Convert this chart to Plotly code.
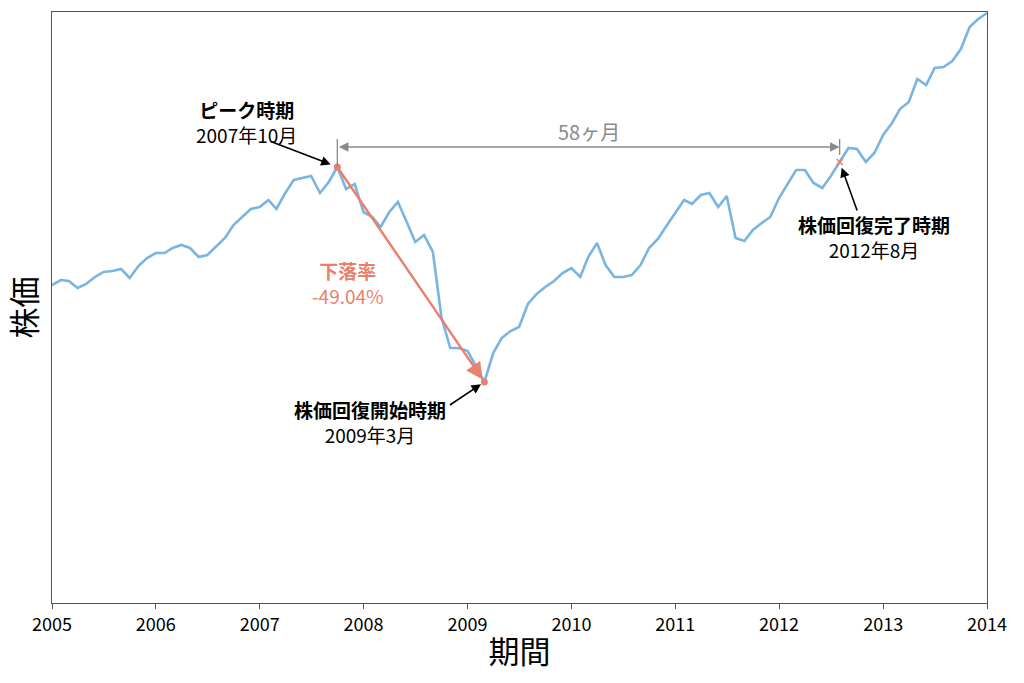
import pandas as pd
import plotly.graph_objects as go

# Monthly dates Jan 2005 .. Jan 2014
dates = pd.date_range("2005-01-01", "2014-01-01", freq="MS")

# Stock price (arbitrary index units)
price = [
    318, 323, 322, 315, 319, 326, 331, 332, 334, 325, 337, 345,    # 2005
    350, 350, 355, 358, 355, 346, 348, 356, 365, 378, 386, 394,    # 2006
    396, 403, 394, 410, 423, 425, 427, 410, 421, 436, 414, 419,    # 2007
    391, 386, 376, 391, 401, 381, 361, 368, 351, 286, 255, 255,    # 2008
    252, 236, 221, 250, 265, 272, 276, 299, 309, 316, 322, 330,    # 2009
    335, 326, 346, 360, 338, 326, 326, 328, 338, 355, 364, 377,    # 2010
    390, 403, 399, 408, 410, 396, 407, 365, 362, 373, 380, 386,    # 2011
    405, 420, 433, 433, 420, 415, 427, 441, 455, 454, 441, 450,    # 2012
    468, 480, 494, 501, 524, 518, 535, 536, 542, 554, 576, 584,    # 2013
    590,                                                           # 2014
]

year_ticks = [f"{y}-01-01" for y in range(2005, 2015)]
year_labels = [str(y) for y in range(2005, 2015)]

peak_i = 33       # 2007-10
trough_i = 50     # 2009-03
recover_i = 91    # 2012-08

BLUE = "#78b5e2"
RED = "#ea7f6c"
GRAY = "#8a8a8a"
FONT = "Noto Sans CJK JP"

fig = go.Figure()
fig.add_trace(go.Scatter(x=dates, y=price, mode="lines",
                         line=dict(color=BLUE, width=2.6), hoverinfo="skip"))
fig.add_trace(go.Scatter(x=[dates[peak_i], dates[trough_i]],
                         y=[price[peak_i], price[trough_i]], mode="markers",
                         marker=dict(color=RED, size=7)))
fig.add_trace(go.Scatter(x=[dates[recover_i]], y=[price[recover_i]], mode="markers",
                         marker=dict(color=RED, size=6, symbol="x-thin",
                                     line=dict(color=RED, width=1.6))))

# Red drop arrow
fig.add_annotation(x=dates[trough_i], y=price[trough_i], xref="x", yref="y",
                   ax=dates[peak_i], ay=price[peak_i], axref="x", ayref="y",
                   text="", showarrow=True, arrowhead=2, arrowsize=1.4,
                   arrowwidth=2.4, arrowcolor=RED, standoff=3)

# Gray span arrow (58 months)
span_y = price[peak_i] + 20
fig.add_annotation(x=dates[recover_i], y=span_y, xref="x", yref="y",
                   ax=dates[peak_i], ay=span_y, axref="x", ayref="y",
                   text="", showarrow=True, arrowhead=2, arrowside="end+start",
                   arrowsize=1.2, arrowwidth=1.6, arrowcolor=GRAY)
fig.add_shape(type="line", xref="x", yref="y", x0=dates[peak_i], x1=dates[peak_i],
              y0=price[peak_i], y1=span_y + 8, line=dict(color=GRAY, width=1.3))
fig.add_shape(type="line", xref="x", yref="y", x0=dates[recover_i], x1=dates[recover_i],
              y0=price[recover_i] + 7, y1=span_y + 8, line=dict(color=GRAY, width=1.3))

# Black pointer arrows
for i, axp, ayp, sd in [(peak_i, -68, -26, 7), (trough_i, -36, 24, 4), (recover_i, 18, 50, 6)]:
    fig.add_annotation(x=dates[i], y=price[i], xref="x", yref="y", ax=axp, ay=ayp,
                       text="", showarrow=True, arrowhead=2, arrowsize=1.2,
                       arrowwidth=1.6, arrowcolor="black", standoff=sd)

def label(px, py, text, color="black", size=19):
    fig.add_annotation(x=(px - 52) / 935, y=(603 - py) / 591, xref="paper", yref="paper",
                       xanchor="center", yanchor="middle",
                       text=text, showarrow=False, align="center",
                       font=dict(family=FONT, size=size, color=color))

label(246, 122, "<b>ピーク時期</b><br>2007年10月")
label(370, 422, "<b>株価回復開始時期</b><br>2009年3月")
label(874, 237, "<b>株価回復完了時期</b><br>2012年8月")
label(348, 283, "<b>下落率</b><br>-49.04%", color=RED)
label(589, 131, "58ヶ月", color=GRAY, size=20)

fig.update_layout(
    width=1024, height=683,
    margin=dict(l=52, r=37, t=12, b=80),
    plot_bgcolor="white", paper_bgcolor="white",
    showlegend=False,
    font=dict(family=FONT, color="black"),
    xaxis=dict(range=["2005-01-01", "2014-01-01"], tickvals=year_ticks, ticktext=year_labels,
               showgrid=False, zeroline=False, showline=True, mirror=True,
               linecolor="#555", linewidth=1.3, ticks="outside", ticklen=5,
               tickcolor="#555", tickfont=dict(size=18, family=FONT),
               title=dict(text="期間", font=dict(size=31, family=FONT), standoff=6)),
    yaxis=dict(range=[0, 591], showgrid=False, zeroline=False, showline=True,
               mirror=True, linecolor="#555", linewidth=1.3, showticklabels=False,
               ticks="", title=dict(text="株価", font=dict(size=31, family=FONT), standoff=6)),
)

fig.write_html("out.html")
